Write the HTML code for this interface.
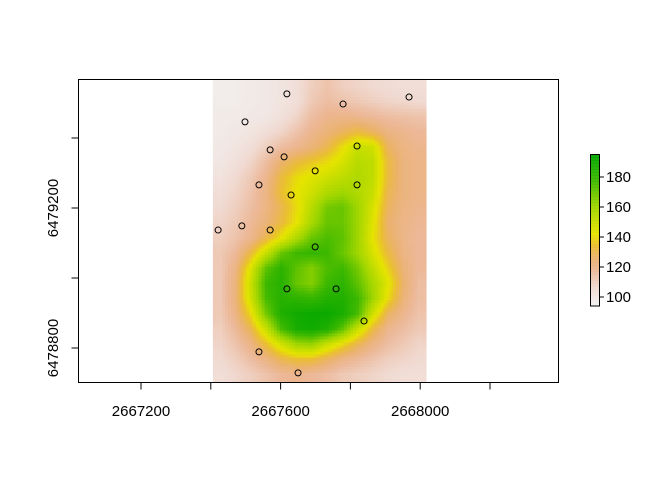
<!DOCTYPE html>
<html><head><meta charset="utf-8"><style>
body{margin:0;background:#fff;}
svg text{font-family:"Liberation Sans",Arial,sans-serif;font-size:15px;fill:#000;}
</style></head><body>
<svg id="chart" width="672" height="480" viewBox="0 0 672 480" xmlns="http://www.w3.org/2000/svg">
<g id="heat"></g>
<g id="pts"></g>
<rect x="78.5" y="79.5" width="480" height="303" fill="none" stroke="#000" stroke-width="1"/>
<g id="xaxis"></g>
<g id="yaxis"></g>
<g id="legend"></g>
</svg>
<script>
// grid values (rows top->bottom, cols left->right)
const grid = [
[97,97,98,99,101,104,110,114,110,108,106,105,104,104],
[97,97,98,99,101,104,112,116,114,112,110,108,107,106],
[98,98,99,100,103,108,116,120,121,120,118,116,115,114],
[98,99,101,104,108,114,120,124,128,132,128,122,120,118],
[99,101,104,110,116,120,124,130,140,150,148,128,122,120],
[100,103,108,116,126,132,136,140,146,154,152,132,123,121],
[102,106,112,120,132,140,144,148,152,156,152,132,123,121],
[104,108,114,122,134,142,148,156,160,156,150,130,123,121],
[106,110,116,122,130,140,154,168,170,160,146,128,122,120],
[108,112,118,124,132,142,158,170,170,160,144,126,121,119],
[110,114,120,130,142,156,170,175,172,160,142,128,121,118],
[112,118,132,150,170,178,180,178,170,160,146,132,122,118],
[112,122,145,172,182,172,165,175,178,168,152,138,124,118],
[112,124,150,178,184,170,165,178,182,172,158,144,126,116],
[112,124,148,176,184,182,180,185,186,178,160,140,124,116],
[112,122,140,168,186,190,192,192,188,176,148,128,120,114],
[110,118,130,150,176,188,190,186,172,150,132,120,116,112],
[108,114,122,134,148,160,162,150,140,130,122,116,112,108],
[106,110,116,122,130,134,134,128,122,118,114,110,108,106],
[104,107,110,114,118,120,118,116,112,110,108,106,104,104]
];
const rasterX = [2667406, 2668017];
const rasterY = [6478703, 6479569];
const ptX = [2667618,2667779,2667968,2667498,2667570,2667610,2667819,2667699,2667538,2667819,2667630,2667421,2667489,2667570,2667699,2667618,2667759,2667839,2667538,2667650];
const ptY = [6479526,6479497,6479517,6479446,6479366,6479346,6479377,6479306,6479266,6479266,6479237,6479137,6479149,6479137,6479089,6478969,6478969,6478877,6478789,6478729];
const xTicks = [2667200,2667400,2667600,2667800,2668000,2668200];
const xTickLabels = ["2667200","","2667600","","2668000",""];
const yTicks = [6478800,6479000,6479200,6479400];
const yTickLabels = ["6478800","","6479200",""];
const legendTicks = [100,120,140,160,180];
const legendRange = [94,195];

const NS="http://www.w3.org/2000/svg";
const sx = v => 141 + (v-2667200)*0.349;
const sy = v => 208 - (v-6479200)*0.35;
const ly = v => 297 - (v-100)*1.5;
const stops=[[94,[242,242,242]],[106,[240,218,210]],[118,[236,184,152]],[126,[235,178,110]],[134,[234,190,50]],[142,[230,228,0]],[160,[160,214,0]],[178,[60,184,0]],[195,[0,166,0]]];
function col(v){
  if(v<=stops[0][0]) return 'rgb('+stops[0][1]+')';
  for(let i=1;i<stops.length;i++){
    if(v<=stops[i][0]){const a=stops[i-1],b=stops[i],t=(v-a[0])/(b[0]-a[0]);
      return 'rgb('+a[1].map((c,k)=>Math.round(c+(b[1][k]-c)*t)).join(',')+')';}
  }
  return 'rgb('+stops[stops.length-1][1]+')';
}
function mk(tag,attrs,parent){const e=document.createElementNS(NS,tag);for(const k in attrs)e.setAttribute(k,attrs[k]);parent.appendChild(e);return e;}
function sample(r,c){
  const R=grid.length,C=grid[0].length;
  r=Math.max(0,Math.min(R-1,r));c=Math.max(0,Math.min(C-1,c));
  const r0=Math.floor(r),c0=Math.floor(c),r1=Math.min(R-1,r0+1),c1=Math.min(C-1,c0+1),fr=r-r0,fc=c-c0;
  return (grid[r0][c0]*(1-fc)+grid[r0][c1]*fc)*(1-fr)+(grid[r1][c0]*(1-fc)+grid[r1][c1]*fc)*fr;
}
// heatmap
const heat=document.getElementById('heat');
const x0=sx(rasterX[0]),x1=sx(rasterX[1]),y0=sy(rasterY[1]),y1=sy(rasterY[0]);
const NX=70,NY=100,cw=(x1-x0)/NX,ch=(y1-y0)/NY;
const R=grid.length,C=grid[0].length;
for(let j=0;j<NY;j++)for(let i=0;i<NX;i++){
  const v=sample((j+0.5)/NY*R-0.5,(i+0.5)/NX*C-0.5);
  const r=mk('rect',{x:(x0+i*cw).toFixed(2),y:(y0+j*ch).toFixed(2),width:(cw+0.4).toFixed(2),height:(ch+0.4).toFixed(2),fill:col(v)},heat);
  
  
}
// points
const pts=document.getElementById('pts');
ptX.forEach((x,i)=>{
  const c=mk('circle',{cx:sx(x),cy:sy(ptY[i]),r:3,fill:'none',stroke:'#000','stroke-width':1},pts);
  
  
});
// x axis
const xa=document.getElementById('xaxis');
xTicks.forEach((t,i)=>{
  const l=mk('line',{x1:sx(t),x2:sx(t),y1:382.5,y2:389.5,stroke:'#000'},xa);
  
  
  if(xTickLabels[i]){const tx=mk('text',{x:sx(t),y:416,'text-anchor':'middle'},xa);tx.textContent=xTickLabels[i];
    
    }
});
// y axis
const ya=document.getElementById('yaxis');
yTicks.forEach((t,i)=>{
  const l=mk('line',{x1:71.5,x2:78.5,y1:sy(t),y2:sy(t),stroke:'#000'},ya);
  
  
  if(yTickLabels[i]){const tx=mk('text',{x:0,y:0,'text-anchor':'middle',transform:`translate(58,${sy(t)}) rotate(-90)`},ya);tx.textContent=yTickLabels[i];
    
    }
});
// legend
const lg=document.getElementById('legend');
for(let v=legendRange[0];v<legendRange[1];v+=0.5){
  const r=mk('rect',{x:590,y:ly(v+0.5),width:9,height:0.9,fill:col(v)},lg);
  
  
}
mk('rect',{x:590.5,y:ly(legendRange[1]),width:9,height:ly(legendRange[0])-ly(legendRange[1]),fill:'none',stroke:'#000'},lg);
legendTicks.forEach(t=>{
  const l=mk('line',{x1:599.5,x2:604,y1:ly(t),y2:ly(t),stroke:'#000'},lg);
  
  
  const tx=mk('text',{x:606,y:ly(t)+5},lg);tx.textContent=t;
  
  
});
</script>
</body></html>
